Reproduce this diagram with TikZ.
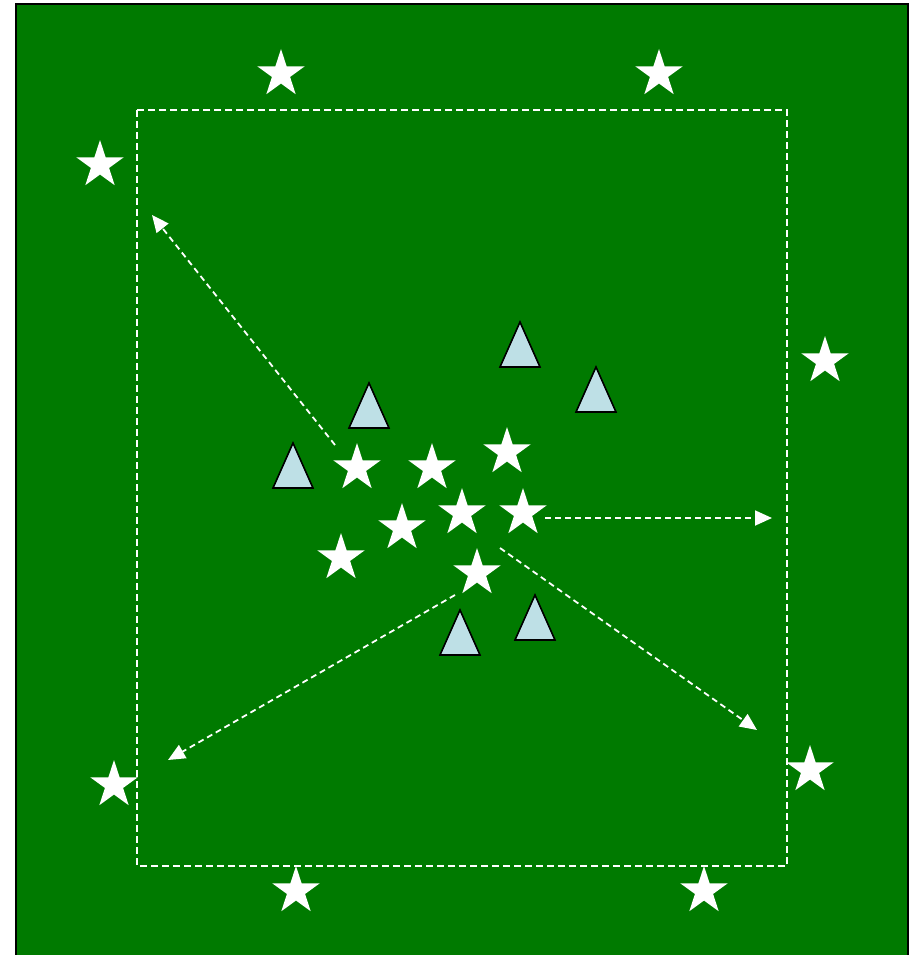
\documentclass[tikz,border=0pt]{standalone}
\usepackage{tikz}
\usetikzlibrary{arrows.meta,shapes.geometric}
\definecolor{PitchGreen}{HTML}{007A00}
\definecolor{ConeBlue}{HTML}{BEE0E6}

\begin{document}
\begin{tikzpicture}[
        x=1pt, y=-1pt,
        player/.style={
            star,
            star points=5,
            star point ratio=2.618,
            fill=white,
            draw=none,
            minimum size=50pt,
            inner sep=0pt
        },
        defender/.pic={
            \draw[line width=1.6pt, fill=ConeBlue, line join=miter]
                (0,0) -- (20,45) -- (-20,45) -- cycle;
        },
        area/.style={draw=white, line width=1.8pt, dash pattern=on 7pt off 4pt},
        run/.style={draw=white, line width=1.8pt, dash pattern=on 6pt off 4pt,
            -{Triangle[length=17pt, width=15pt]}}
    ]
        \useasboundingbox (0,0) rectangle (913,955);
        \clip (0,0) rectangle (913,955);
        \fill[white] (0,0) rectangle (913,955);

        % pitch
        \draw[fill=PitchGreen, line width=2pt] (16,4) rectangle (908,980);
        \draw[area] (137,110) rectangle (787,866);

        % outside players
        \node[player] (top1) at (281,74) {};
        \node[player] (top2) at (659,74) {};
        \node[player] (left1) at (100,165) {};
        \node[player] (right1) at (825,361) {};
        \node[player] (left2) at (114,785) {};
        \node[player] (right2) at (810,770) {};
        \node[player] (bot1) at (296,891) {};
        \node[player] (bot2) at (704,891) {};

        % centre group
        \node[player] (c1) at (357,468) {};
        \node[player] (c2) at (432,468) {};
        \node[player] (c3) at (507,452) {};
        \node[player] (c4) at (462,513) {};
        \node[player] (c5) at (523,513) {};
        \node[player] (c6) at (402,528) {};
        \node[player] (c7) at (341,558) {};
        \node[player] (c8) at (477,573) {};

        % defenders
        \pic at (520,322) {defender};
        \pic at (369,383) {defender};
        \pic at (596,367) {defender};
        \pic at (293,443) {defender};
        \pic at (460,610) {defender};
        \pic at (535,595) {defender};

        % runs
        \coordinate (runA) at (335,445);
        \coordinate (endA) at (152,215);
        \coordinate (runB) at (545,518);
        \coordinate (endB) at (772,518);
        \coordinate (runC) at (500,548);
        \coordinate (endC) at (757,730);
        \coordinate (runD) at (455,595);
        \coordinate (endD) at (168,760);

        \draw[run] (runA) -- (endA);
        \draw[run] (runB) -- (endB);
        \draw[run] (runC) -- (endC);
        \draw[run] (runD) -- (endD);
    \end{tikzpicture}
\end{document}
